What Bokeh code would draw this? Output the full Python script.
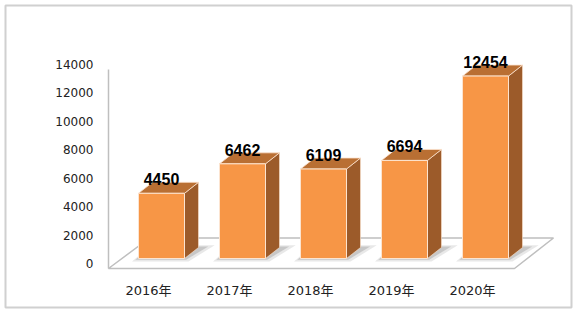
from bokeh.plotting import figure
from bokeh.models import (Range1d, LinearAxis, FixedTicker, ColumnDataSource)
from bokeh.core.properties import value
from bokeh.embed import file_html
from bokeh.resources import INLINE

# ---------------- data ----------------
categories = ["2016年", "2017年", "2018年", "2019年", "2020年"]
values = [4450, 6462, 6109, 6694, 12454]
y_ticks = [0, 2000, 4000, 6000, 8000, 10000, 12000, 14000]

# ---------------- geometry (pixel-based styling constants) ----------------
W, H = 576, 314
FL, FR, FT, FB = 5, 571, 5, 307          # frame edges in px (frame == outer box)
PX_CAT = 81.0                             # px per category
LABEL0_PX = 148.0                         # px of first category label centre
KY = 0.01465                              # px per value unit for bars
BASE_PX = 258.0                           # px of bar baseline
KA = 199.0 / 14000                        # px per unit for the axis labels
AX0_PX = 263.0                            # px of "0" axis label

x_start = -(LABEL0_PX - FL) / PX_CAT
x_end = x_start + (FR - FL) / PX_CAT
y_start = -(FB - BASE_PX) / KY
y_end = y_start + (FB - FT) / KY
a_start = -(FB - AX0_PX) / KA
a_end = a_start + (FB - FT) / KA

def px_x(px):
    return (px - LABEL0_PX) / PX_CAT

def px_y(px):
    return (BASE_PX - px) / KY

def px_a(px):
    return (AX0_PX - px) / KA

bar_shift = 13 / PX_CAT
half_w = 23 / PX_CAT
dx = 14 / PX_CAT
dy = 11 / KY

p = figure(width=W, height=H, output_backend="svg", toolbar_location=None,
           x_range=Range1d(x_start, x_end), y_range=Range1d(y_start, y_end),
           min_border_left=FL, min_border_right=W - FR,
           min_border_top=FT, min_border_bottom=H - FB,
           x_axis_type=None, y_axis_type=None)
p.extra_y_ranges = {"ax": Range1d(a_start, a_end)}
p.grid.visible = False
p.background_fill_color = "white"
p.border_fill_color = "white"
p.outline_line_color = "#d0d0d0"
p.outline_line_width = 2

# ---------------- floor ----------------
fy0 = px_y(268)
fy1 = px_y(237.5)
p.patch([px_x(108), px_x(514), px_x(553), px_x(149)], [fy0, fy0, fy1, fy1],
        fill_color="white", line_color="#bfbfbf", line_width=1.5)

# vertical wall line
p.segment(x0=[px_x(108)], x1=[px_x(108)], y0=[px_a(268)], y1=[px_a(69)],
          y_range_name="ax", line_color="#bfbfbf", line_width=1.5)

# ---------------- bars ----------------
xs = [i + bar_shift for i in range(len(values))]
front_c = "#F79646"
top_c = "#B96F33"
side_c = "#9C5B2A"
edge_c = "#FCE4D0"

for xc, v in zip(xs, values):
    xl, xr = xc - half_w, xc + half_w
    # soft shadows on the floor
    p.patch([xl - 0.08, xr + 0.05, xr + dx + 0.20, xl + dx - 0.02],
            [-200, -200, dy + 150, dy + 150],
            fill_color="#d9d9d9", fill_alpha=0.6, line_color=None)
    p.patch([xl - 0.04, xr + 0.02, xr + dx + 0.12, xl + dx],
            [-80, -80, dy + 60, dy + 60],
            fill_color="#b0b0b0", fill_alpha=0.6, line_color=None)

src = ColumnDataSource(dict(
    x=xs, v=values,
    xl=[x - half_w for x in xs], xr=[x + half_w for x in xs],
    side_xs=[[x + half_w, x + half_w + dx, x + half_w + dx, x + half_w] for x in xs],
    side_ys=[[0, dy, v + dy, v] for v in values],
    top_xs=[[x - half_w, x + half_w, x + half_w + dx, x - half_w + dx] for x in xs],
    top_ys=[[v, v, v + dy, v + dy] for v in values],
    ly=[v + dy for v in values],
    lab=[str(v) for v in values],
))

p.patches("side_xs", "side_ys", source=src, fill_color=side_c,
          line_color=edge_c, line_width=1, line_alpha=0.6)
p.patches("top_xs", "top_ys", source=src, fill_color=top_c,
          line_color=edge_c, line_width=1, line_alpha=0.8)
p.quad(left="xl", right="xr", bottom=0, top="v", source=src,
       fill_color=front_c, line_color=edge_c, line_width=1)

p.text(x="x", y="ly", text="lab", source=src, text_align="center",
       text_baseline="alphabetic", text_font=value("Liberation Sans"),
       text_font_style="bold", text_font_size="16px", text_color="black",
       y_offset=-3)

# ---------------- axes ----------------
yaxis = LinearAxis(y_range_name="ax", fixed_location=px_x(108),
                   ticker=FixedTicker(ticks=y_ticks))
yaxis.axis_line_color = None
yaxis.major_tick_line_color = None
yaxis.minor_tick_line_color = None
yaxis.major_tick_out = 0
yaxis.major_tick_in = 0
yaxis.major_label_standoff = 15
yaxis.major_label_text_font = "DejaVu Sans"
yaxis.major_label_text_font_size = "12px"
yaxis.major_label_text_color = "#222222"
p.add_layout(yaxis, "left")

xaxis = LinearAxis(fixed_location=px_y(272),
                   ticker=FixedTicker(ticks=list(range(len(categories)))))
xaxis.major_label_overrides = {i: c for i, c in enumerate(categories)}
xaxis.axis_line_color = None
xaxis.major_tick_line_color = None
xaxis.minor_tick_line_color = None
xaxis.major_tick_out = 0
xaxis.major_tick_in = 0
xaxis.major_label_standoff = 10
xaxis.major_label_text_font = "DejaVu Sans, Noto Sans CJK SC"
xaxis.major_label_text_font_size = "13px"
xaxis.major_label_text_color = "#222222"
p.add_layout(xaxis, "below")

open("out.html", "w").write(file_html(p, INLINE))
